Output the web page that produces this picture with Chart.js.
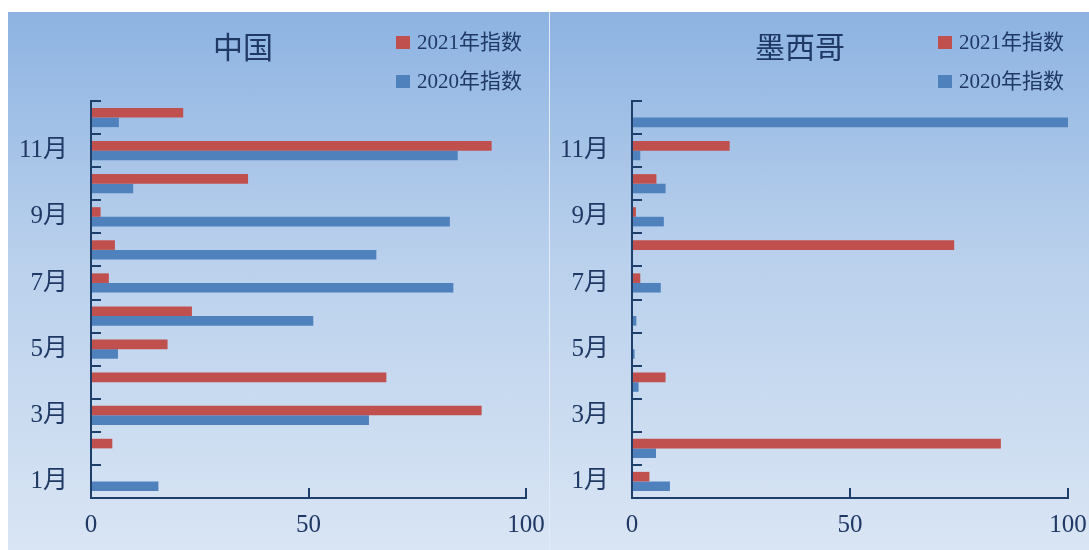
<!DOCTYPE html>
<html>
<head>
<meta charset="utf-8">
<script src="https://cdn.jsdelivr.net/npm/chart.js@4.4.0/dist/chart.umd.min.js"></script>
<style>
  html, body { margin: 0; padding: 0; background: #ffffff; width: 1089px; height: 550px; overflow: hidden; }
  .panel { position: absolute; top: 12px; height: 538px;
           background: linear-gradient(to bottom, #8db3e2 0%, #b9d0ec 45%, #d9e5f4 100%); }
  #p1 { left: 8px; width: 541px; }
  #p2 { left: 550px; width: 539px; }
  #divider { position: absolute; left: 549px; top: 12px; width: 1px; height: 538px; background: #e2ebf6; }
  .panel canvas { position: absolute; left: 0; top: 0; }
  .title { position: absolute; top: 21px; transform: translateX(-50%); white-space: nowrap;
           font-family: "Liberation Serif", "Times New Roman", "Noto Sans CJK SC", serif;
           font-size: 30px; line-height: 30px; color: #1f3864; }
  .legend { position: absolute; left: 388px; top: 17px;
            font-family: "Liberation Serif", "Times New Roman", "Noto Sans CJK SC", serif;
            font-size: 21px; color: #1f3864; }
  .legend .item { position: relative; height: 39px; line-height: 26px; padding-left: 21px; white-space: nowrap; }
  .legend .sw { position: absolute; left: 0; top: 7px; width: 14px; height: 13px; }
</style>
</head>
<body>
<div id="p1" class="panel">
  <canvas id="c1" width="541" height="538"></canvas>
  <div class="title" id="t1" style="left:235px"></div>
  <div class="legend" id="l1"></div>
</div>
<div id="divider"></div>
<div id="p2" class="panel">
  <canvas id="c2" width="539" height="538"></canvas>
  <div class="title" id="t2" style="left:250px"></div>
  <div class="legend" id="l2" style="left:388px"></div>
</div>
<script>
// ---- data ----
const months = ['1月','2月','3月','4月','5月','6月','7月','8月','9月','10月','11月','12月'];
const yTickLabels = ['1月','','3月','','5月','','7月','','9月','','11月',''];
const xTicks = [0, 50, 100];
const seriesNames = ['2021年指数', '2020年指数'];
const chartTitles = ['中国', '墨西哥'];

const china2021 = [0, 4.9, 89.8, 67.9, 17.6, 23.2, 4.1, 5.5, 2.2, 36.1, 92.1, 21.2];
const china2020 = [15.5, 0, 63.9, 0, 6.2, 51.1, 83.3, 65.6, 82.5, 9.7, 84.3, 6.4];
const mexico2021 = [4.0, 84.6, 0, 7.7, 0, 0, 1.9, 73.9, 0.9, 5.6, 22.4, 0];
const mexico2020 = [8.7, 5.5, 0, 1.5, 0.6, 1.0, 6.6, 0, 7.3, 7.7, 1.9, 100];

// ---- style ----
const RED = '#c0504d';
const BLUE = '#4f81bd';
const AXIS = '#1f3f6b';
const TEXT = '#1f3864';
const FONT = '"Liberation Serif", "Times New Roman", "Noto Sans CJK SC", serif';

function makeChart(canvasId, d2021, d2020, yAxisWidth, rightPad) {
  return new Chart(document.getElementById(canvasId), {
    type: 'bar',
    data: {
      labels: months,
      datasets: [
        { label: seriesNames[0], data: d2021, backgroundColor: RED, borderWidth: 0,
          categoryPercentage: 0.58, barPercentage: 1.0 },
        { label: seriesNames[1], data: d2020, backgroundColor: BLUE, borderWidth: 0,
          categoryPercentage: 0.58, barPercentage: 1.0 }
      ]
    },
    options: {
      indexAxis: 'y',
      responsive: false,
      animation: false,
      layout: { padding: { left: 0, right: rightPad, top: 89, bottom: 0 } },
      plugins: { legend: { display: false }, title: { display: false }, tooltip: { enabled: false } },
      scales: {
        y: {
          reverse: true,
          afterFit: (s) => { s.width = yAxisWidth; s.paddingTop = 0; s.paddingBottom = 0; },
          border: { display: true, color: AXIS, width: 2 },
          grid: { display: true, drawOnChartArea: false, drawTicks: true, tickLength: -10,
                  color: AXIS, lineWidth: 2, offset: true },
          ticks: {
            autoSkip: false,
            padding: 33,
            color: TEXT,
            font: { family: FONT, size: 25 },
            callback: (v, i) => yTickLabels[i]
          }
        },
        x: {
          min: xTicks[0], max: xTicks[xTicks.length - 1],
          afterFit: (s) => { s.height = 52; s.paddingLeft = 0; s.paddingRight = 0; },
          afterBuildTicks: (s) => { s.ticks = xTicks.map(v => ({ value: v })); },
          border: { display: true, color: AXIS, width: 2 },
          grid: { display: true, drawOnChartArea: false, drawTicks: true, tickLength: -10,
                  color: AXIS, lineWidth: 2 },
          ticks: {
            padding: 22,
            color: TEXT,
            font: { family: FONT, size: 25 }
          }
        }
      }
    }
  });
}

function buildLegend(elId) {
  const el = document.getElementById(elId);
  const cols = [RED, BLUE];
  seriesNames.forEach((n, i) => {
    const it = document.createElement('div');
    it.className = 'item';
    const sw = document.createElement('span');
    sw.className = 'sw';
    sw.style.background = cols[i];
    it.appendChild(sw);
    it.appendChild(document.createTextNode(n));
    el.appendChild(it);
  });
}

document.getElementById('t1').textContent = chartTitles[0];
document.getElementById('t2').textContent = chartTitles[1];
buildLegend('l1');
buildLegend('l2');
makeChart('c1', china2021, china2020, 83, 23);
makeChart('c2', mexico2021, mexico2020, 82, 21);
</script>
</body>
</html>
